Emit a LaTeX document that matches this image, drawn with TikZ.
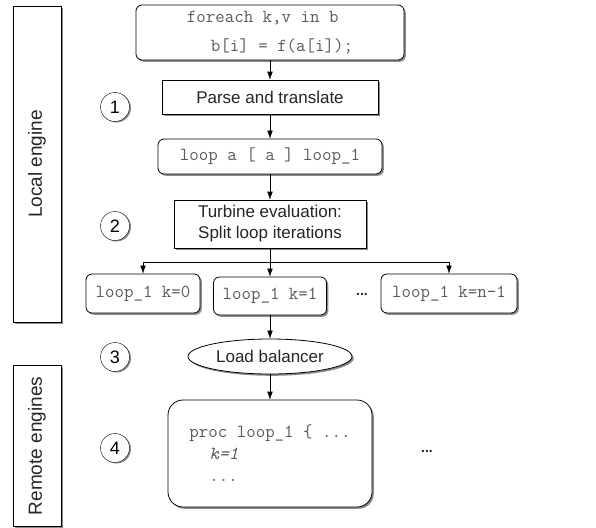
\documentclass[tikz,border=0pt]{standalone}
\usepackage{fontspec}
\setsansfont{Liberation Sans}
\usetikzlibrary{arrows.meta,shapes.geometric,shadows}
\definecolor{codegray}{HTML}{5A5A5A}
\definecolor{textgray}{HTML}{262626}
\begin{document}
\begin{tikzpicture}[x=1pt, y=-1pt, >={Latex[length=8pt,width=5.5pt]}]
    \tikzset{shade box/.style={draw, thick, fill=white, inner sep=0pt,
        drop shadow={shadow xshift=1.8pt, shadow yshift=-1.8pt, fill=black!45, opacity=1}},
      plain box/.style={shade box, font=\fontsize{17}{20}\selectfont\sffamily, text=textgray, align=center},
      code box/.style={shade box, rounded corners=6pt, font=\fontsize{18.4}{20}\selectfont\ttfamily, text=codegray},
      stage/.style={draw, circle, minimum size=29pt, inner sep=0pt, font=\fontsize{18}{20}\selectfont\sffamily,
        drop shadow={shadow xshift=1.5pt, shadow yshift=-1pt, fill=black!45, opacity=1}, fill=white},
      engine/.style={shade box, thin, minimum width=48pt, font=\fontsize{19}{22}\selectfont\sffamily, text=textgray}}

    \useasboundingbox (0,0) rectangle (596,527);

    % engines
    \draw (37,164) node (local) [engine, minimum height=316pt] {\rotatebox{90}{Local engine}};
    \draw (37,446) node (remote) [engine, minimum height=161pt] {\rotatebox{90}{Remote engines}};

    % pipeline
    \draw (270,32.5) node (code) [code box, minimum width=268pt, minimum height=55pt, align=left,
      font=\fontsize{18.4}{29}\selectfont\ttfamily] {foreach k,v in b\\\hspace*{24pt}b[i] = f(a[i]);};
    \draw (270,97) node (parse) [plain box, minimum width=216pt, minimum height=34pt] {Parse and translate};
    \draw (270,156.5) node (loopa) [code box, minimum width=224pt, minimum height=35pt] {loop a [ a ] loop\_1};
    \draw (270,224) node (turbine) [plain box, minimum width=192pt, minimum height=48pt,
      font=\fontsize{17}{21}\selectfont\sffamily] {Turbine evaluation:\\Split loop iterations};

    \draw (143,293.5) node (iter0) [code box, minimum width=114pt, minimum height=39pt] {loop\_1 k=0};
    \draw (270,296) node (iter1) [code box, minimum width=113pt, minimum height=38pt] {loop\_1 k=1};
    \draw (449,293.5) node (itern) [code box, minimum width=136pt, minimum height=39pt] {loop\_1 k=n-1};
    \draw (362,294) node (idots) [font=\fontsize{14}{16}\selectfont\bfseries\sffamily, text=textgray] {...};

    \draw (270,356.5) node (balancer) [shade box, ellipse, minimum width=164pt, minimum height=35pt,
      font=\fontsize{17}{20}\selectfont\sffamily, text=textgray] {Load balancer};
    \draw (270,453.5) node (proc) [code box, rounded corners=15pt, minimum width=204pt,
      minimum height=107pt, align=left, font=\fontsize{18.4}{22}\selectfont\ttfamily]
      {proc loop\_1 \{ ...\\\hspace*{20pt}\textit{k=1}\\\hspace*{20pt}...};
    \draw (427,451) node (rdots) [font=\fontsize{14}{16}\selectfont\bfseries\sffamily, text=textgray] {...};

    % stages
    \draw (115,107) node (s1) [stage] {1};
    \draw (115,226) node (s2) [stage] {2};
    \draw (115,357) node (s3) [stage] {3};
    \draw (115,448) node (s4) [stage] {4};

    \coordinate (split) at (270,262);
    \draw[->] (code) -- (parse);
    \draw[->] (parse) -- (loopa);
    \draw[->] (loopa) -- (turbine);
    \draw (turbine) -- (split);
    \draw[->] (split) -| (iter0);
    \draw[->] (split) -- (iter1);
    \draw[->] (split) -| (itern);
    \draw[->] (iter1) -- (balancer);
    \draw[->] (balancer) -- (proc);
  \end{tikzpicture}
\end{document}
